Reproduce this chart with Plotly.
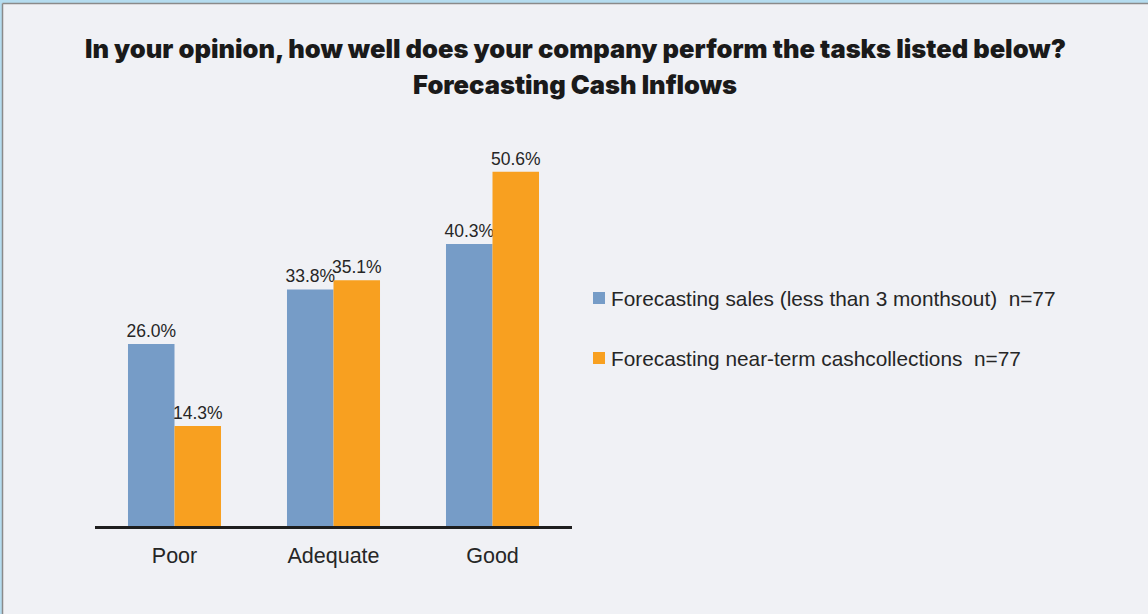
import plotly.graph_objects as go

categories = ["Poor", "Adequate", "Good"]
series_names = ["Forecasting sales (less than 3 monthsout)  n=77",
                "Forecasting near-term cashcollections  n=77"]
sales = [26.0, 33.8, 40.3]
cash = [14.3, 35.1, 50.6]
title_line1 = "In your opinion, how well does your company perform the tasks listed below?"
title_line2 = "Forecasting Cash Inflows"

W, H = 1148, 614
BLUE = "#769cc7"
ORANGE = "#f8a020"
BG = "#f0f1f5"
TXT = "#262626"
FONT = "Liberation Sans, Arial"

def px(x):
    return x / W

def py(y):
    return 1 - y / H

fig = go.Figure()
for name, vals, col in [(series_names[0], sales, BLUE), (series_names[1], cash, ORANGE)]:
    fig.add_trace(go.Bar(
        x=categories, y=vals, name=name, marker=dict(color=col, line=dict(width=0)),
        text=[f"{v:.1f}%" for v in vals], textposition="outside", constraintext="none",
        textfont=dict(family=FONT, size=17.5, color=TXT),
        cliponaxis=False, showlegend=False,
    ))

fig.update_layout(
    width=W, height=H,
    margin=dict(l=0, r=0, t=0, b=0),
    paper_bgcolor=BG, plot_bgcolor=BG,
    barmode="group", bargap=0.415, bargroupgap=0,
    uniformtext=dict(mode=False),
    xaxis=dict(domain=[px(95), px(572)], range=[-0.5, 2.5], showline=True, linewidth=3,
               linecolor="#1e1e1e", ticks="", showgrid=False, zeroline=False,
               tickfont=dict(family=FONT, size=21.5, color=TXT),
               ticklabelstandoff=8),
    yaxis=dict(domain=[py(526), py(141)], range=[0, 55], visible=False, showgrid=False),
    font=dict(family=FONT, color=TXT),
)

# Title
for txt, yc in [(title_line1, 48), (title_line2, 84)]:
    fig.add_annotation(x=px(575), y=py(yc), xref="paper", yref="paper", text=txt,
                       showarrow=False, xanchor="center", yanchor="middle",
                       font=dict(family="Inter", size=25.5, weight=900, color="#1a1a1a"))

# Manual legend
for i, (name, col) in enumerate(zip(series_names, [BLUE, ORANGE])):
    yc = 298 + 60 * i
    fig.add_shape(type="rect", xref="paper", yref="paper", x0=px(593), x1=px(605),
                  y0=py(yc + 6), y1=py(yc - 6), fillcolor=col, line=dict(width=0))
    fig.add_annotation(x=px(609), y=py(yc), xref="paper", yref="paper", text=name, showarrow=False,
                       xanchor="left", yanchor="middle",
                       font=dict(family=FONT, size=20.8, color=TXT))

# Border
fig.add_shape(type="rect", xref="paper", yref="paper", x0=0, x1=1, y0=py(3), y1=1,
              fillcolor="#b5dcef", line=dict(width=0), layer="above")
fig.add_shape(type="rect", xref="paper", yref="paper", x0=0, x1=px(2), y0=0, y1=1,
              fillcolor="#b5dcef", line=dict(width=0), layer="above")
fig.add_shape(type="line", xref="paper", yref="paper", x0=px(2.5), x1=1, y0=py(3.5), y1=py(3.5),
              line=dict(color="#8a8a8a", width=1.5), layer="above")
fig.add_shape(type="line", xref="paper", yref="paper", x0=px(2.5), x1=px(2.5), y0=0, y1=py(3.5),
              line=dict(color="#8a8a8a", width=1.5), layer="above")

fig.write_html("out.html")
